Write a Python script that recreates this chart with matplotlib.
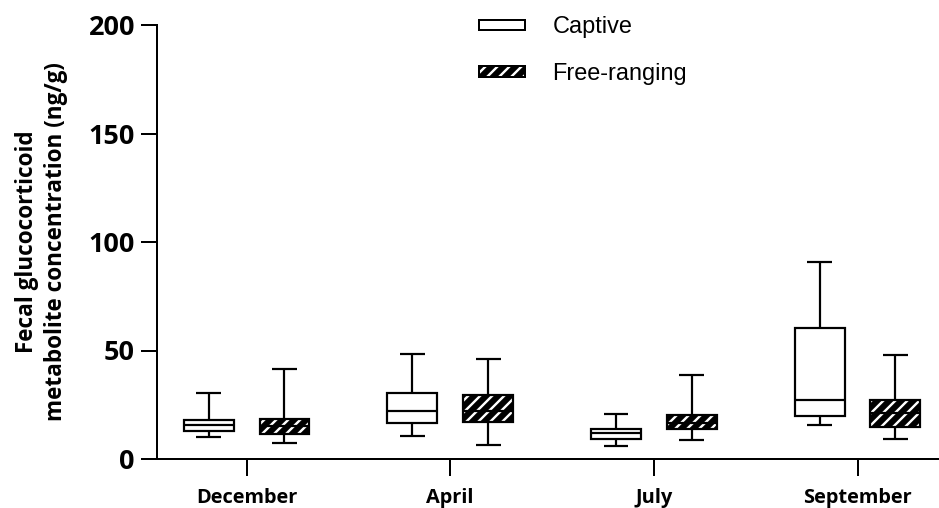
import matplotlib
matplotlib.use("Agg")
import matplotlib.pyplot as plt
from matplotlib.patches import Patch, PathPatch
from matplotlib.legend_handler import HandlerTuple

months = ["December", "April", "July", "September"]

# five-number summaries (min, Q1, median, Q3, max)
captive_min = [10.1, 10.6, 6.0, 15.7]
captive_q1 = [12.9, 16.6, 9.4, 19.7]
captive_med = [15.7, 22.1, 11.8, 27.0]
captive_q3 = [18.0, 30.4, 14.0, 60.4]
captive_max = [30.4, 48.2, 20.6, 90.9]

free_min = [7.4, 6.5, 8.8, 9.1]
free_q1 = [11.4, 17.2, 13.7, 14.9]
free_med = [15.0, 22.0, 16.5, 21.0]
free_q3 = [18.6, 29.3, 20.1, 27.2]
free_max = [41.5, 46.2, 38.6, 47.9]

plt.rcParams["hatch.linewidth"] = 2.4
TICKFONT = "Open Sans"
HATCH = "//"


def stats(lo, q1, med, q3, hi):
    return [dict(whislo=a, q1=b, med=c, q3=d, whishi=e, fliers=[])
            for a, b, c, d, e in zip(lo, q1, med, q3, hi)]


fig = plt.figure(figsize=(939 / 72, 508 / 72), dpi=72)
ax = fig.add_axes([157 / 939, 1 - 459 / 508, 1 - 157 / 939, (459 - 25) / 508])

pos = list(range(len(months)))
off = 0.186
w = 0.245
lw = 2.2

line_kw = dict(color="black", lw=lw, solid_capstyle="butt")
bp_c = ax.bxp(stats(captive_min, captive_q1, captive_med, captive_q3, captive_max),
              positions=[p - off for p in pos], widths=w, capwidths=w / 2,
              patch_artist=True, showfliers=False,
              boxprops=dict(facecolor="white", edgecolor="black", lw=lw),
              whiskerprops=line_kw, capprops=line_kw, medianprops=line_kw)
bp_f = ax.bxp(stats(free_min, free_q1, free_med, free_q3, free_max),
              positions=[p + off for p in pos], widths=w, capwidths=w / 2,
              patch_artist=True, showfliers=False,
              boxprops=dict(facecolor="black", edgecolor="white", lw=0, hatch=HATCH),
              whiskerprops=line_kw, capprops=line_kw, medianprops=line_kw)
# black outline on top of the white-hatched boxes
for b in bp_f["boxes"]:
    ax.add_patch(PathPatch(b.get_path(), fc="none", ec="black", lw=lw,
                           transform=ax.transData, zorder=b.get_zorder() + 0.5))

ax.set_xlim(-0.44, 3.40)
ax.set_ylim(0, 200)
ax.set_yticks([0, 50, 100, 150, 200])
ax.set_xticks(pos)
ax.set_xticklabels(months, fontsize=20, fontweight="bold", family=TICKFONT)
for t in ax.get_yticklabels():
    t.set_fontsize(27); t.set_fontweight("bold"); t.set_family(TICKFONT)
ax.tick_params(axis="y", length=16, width=2, pad=6)
ax.tick_params(axis="x", length=17, width=2, pad=12)
for s in ("top", "right"):
    ax.spines[s].set_visible(False)
for s in ("left", "bottom"):
    ax.spines[s].set_linewidth(2)

ax.set_ylabel("Fecal glucocorticoid\nmetabolite concentration (ng/g)",
              fontsize=22.5, fontweight="bold", family=TICKFONT, linespacing=1.28)
ax.yaxis.set_label_coords((68 - 157) / 782, 0.5)

h_cap = Patch(facecolor="white", edgecolor="black", lw=2)
h_free = (Patch(facecolor="black", edgecolor="white", lw=0, hatch=HATCH),
          Patch(facecolor="none", edgecolor="black", lw=2))
leg = ax.legend([h_cap, h_free], ["Captive", "Free-ranging"],
                handler_map={tuple: HandlerTuple(ndivide=1, pad=0)},
                loc="upper left", bbox_to_anchor=(470 / 939, 1 - 7 / 508),
                bbox_transform=fig.transFigure, frameon=False,
                prop=dict(family="Liberation Sans", size=23.5),
                handlelength=1.96, handleheight=0.3, handletextpad=1.15,
                labelspacing=1.05, borderaxespad=0)

fig.savefig("out.png", dpi=72)
